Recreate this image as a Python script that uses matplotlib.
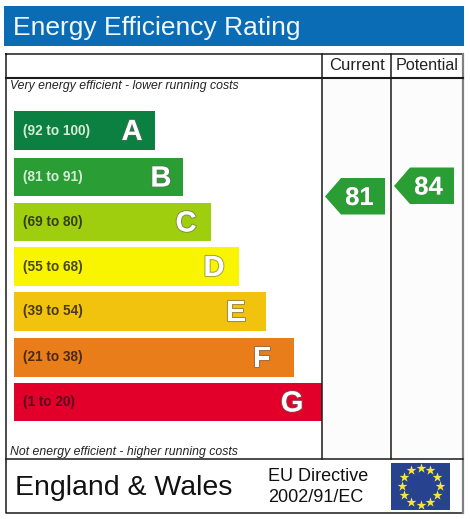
import numpy as np
import matplotlib.pyplot as plt
import matplotlib.patheffects as pe
from matplotlib.patches import Rectangle, Polygon

plt.rcParams['font.family'] = ['Liberation Sans', 'DejaVu Sans']

# Chart data
band_labels = ["(92 to 100)", "(81 to 91)", "(69 to 80)", "(55 to 68)", "(39 to 54)", "(21 to 38)", "(1 to 20)"]
band_letters = ["A", "B", "C", "D", "E", "F", "G"]
band_lengths = [141, 169, 197, 225, 252, 280, 308]
band_colors = ["#0c8040", "#2a9e34", "#9fce0f", "#f9f500", "#f1c20e", "#e87d1a", "#e2002a"]
label_colors = ["#d5ecd8", "#d5ecd8", "#33400a", "#4a4a10", "#4a3a10", "#4a2a10", "#5a0a20"]
current_score = 81
potential_score = 84
column_names = ["Current", "Potential"]

# Pixel layout, y runs downwards like in the image
bar_left = 14
bar_height = 38.5
bar_centers = [130.5, 177, 222, 266.5, 311.5, 357.5, 402]
letter_offsets = [23, 22, 25, 25, 30, 32, 30]
W, H = 470, 519
LINE = "#1a1a1a"

def score_y(score):
    # vertical position of an arrow for a given score
    return 196.5 - (score - 81) * 3.5

fig = plt.figure(figsize=(W / 100, H / 100), dpi=100)
ax = fig.add_axes([0, 0, 1, 1])
ax.set_xlim(0, W)
ax.set_ylim(H, 0)
ax.axis("off")

# Title banner
ax.add_patch(Rectangle((4, 6), 460, 40, fc="#0a6cb4", ec="none"))
ax.text(13, 28, "Energy Efficiency Rating", color="#f2f8fc", fontsize=19, va="center", ha="left")

# Frame and grid lines
ax.plot([5.5, 463, 463, 5.5, 5.5], [53.5, 53.5, 513, 513, 53.5], color=LINE, lw=1.1)
ax.plot([463, 463], [53.5, 513], color="#808080", lw=1.6)
ax.plot([5.5, 463], [77.5, 77.5], color=LINE, lw=1.5)
ax.plot([5.5, 463], [459, 459], color=LINE, lw=1.1)
ax.plot([322, 322], [53.5, 459], color=LINE, lw=1.1)
ax.plot([391, 391], [53.5, 459], color=LINE, lw=1.1)
ax.add_patch(Rectangle((323, 78), 67.5, 380, fc="#fcfcfc", ec="none", zorder=0))
ax.add_patch(Rectangle((392, 78), 70, 380, fc="#fcfcfc", ec="none", zorder=0))

ax.text(357, 65.5, column_names[0], color="#222222", fontsize=12, ha="center", va="center")
ax.text(427.5, 65.5, column_names[1], color="#222222", fontsize=11.6, ha="center", va="center")

ax.text(10, 85.5, "Very energy efficient - lower running costs", style="italic", color="#222222", fontsize=8.85, ha="left", va="center")
ax.text(10, 452, "Not energy efficient - higher running costs", style="italic", color="#222222", fontsize=8.85, ha="left", va="center")

# Bands
ax.barh(bar_centers, band_lengths, height=bar_height, left=bar_left, color=band_colors, edgecolor="none")
for y, length, text, letter, text_col, off in zip(bar_centers, band_lengths, band_labels, band_letters, label_colors, letter_offsets):
    ax.text(23, y, text, color=text_col, fontsize=9.8, fontweight="bold", ha="left", va="center")
    t = ax.text(bar_left + length - off, y + 1.5, letter, color="white", fontsize=21, fontweight="bold", ha="center", va="center")
    t.set_path_effects([pe.withStroke(linewidth=1.5, foreground="#66666690")])

# Score arrows
def draw_arrow(tip_x, score):
    y = score_y(score)
    pts = [(tip_x, y), (tip_x + 16, y - 18.5), (tip_x + 60, y - 18.5), (tip_x + 60, y + 18), (tip_x + 16, y + 18)]
    ax.add_patch(Polygon(pts, closed=True, fc="#2a9e34", ec="none", zorder=3))
    t = ax.text(tip_x + 34.5, y + 1.5, str(score), color="white", fontsize=18.5, fontweight="bold", ha="center", va="center", zorder=4)
    t.set_path_effects([pe.withStroke(linewidth=1, foreground="#4a8a5080")])

draw_arrow(325, current_score)
draw_arrow(394, potential_score)

# Footer
ax.text(15, 488, "England & Wales", color="#111111", fontsize=20.5, ha="left", va="center")
ax.text(268, 476.5, "EU Directive", color="#111111", fontsize=13, ha="left", va="center")
ax.text(268, 497.5, "2002/91/EC", color="#111111", fontsize=13, ha="left", va="center")

# EU flag
ax.add_patch(Rectangle((391, 463), 59, 47, fc="#27428f", ec="none"))
angles = np.arange(12) * 2 * np.pi / 12
ax.scatter(420.5 + 19 * np.sin(angles), 486 - 18.5 * np.cos(angles), marker="*", s=55, color="#f4e73b", linewidths=0, zorder=3)

fig.savefig("out.png", dpi=100)
